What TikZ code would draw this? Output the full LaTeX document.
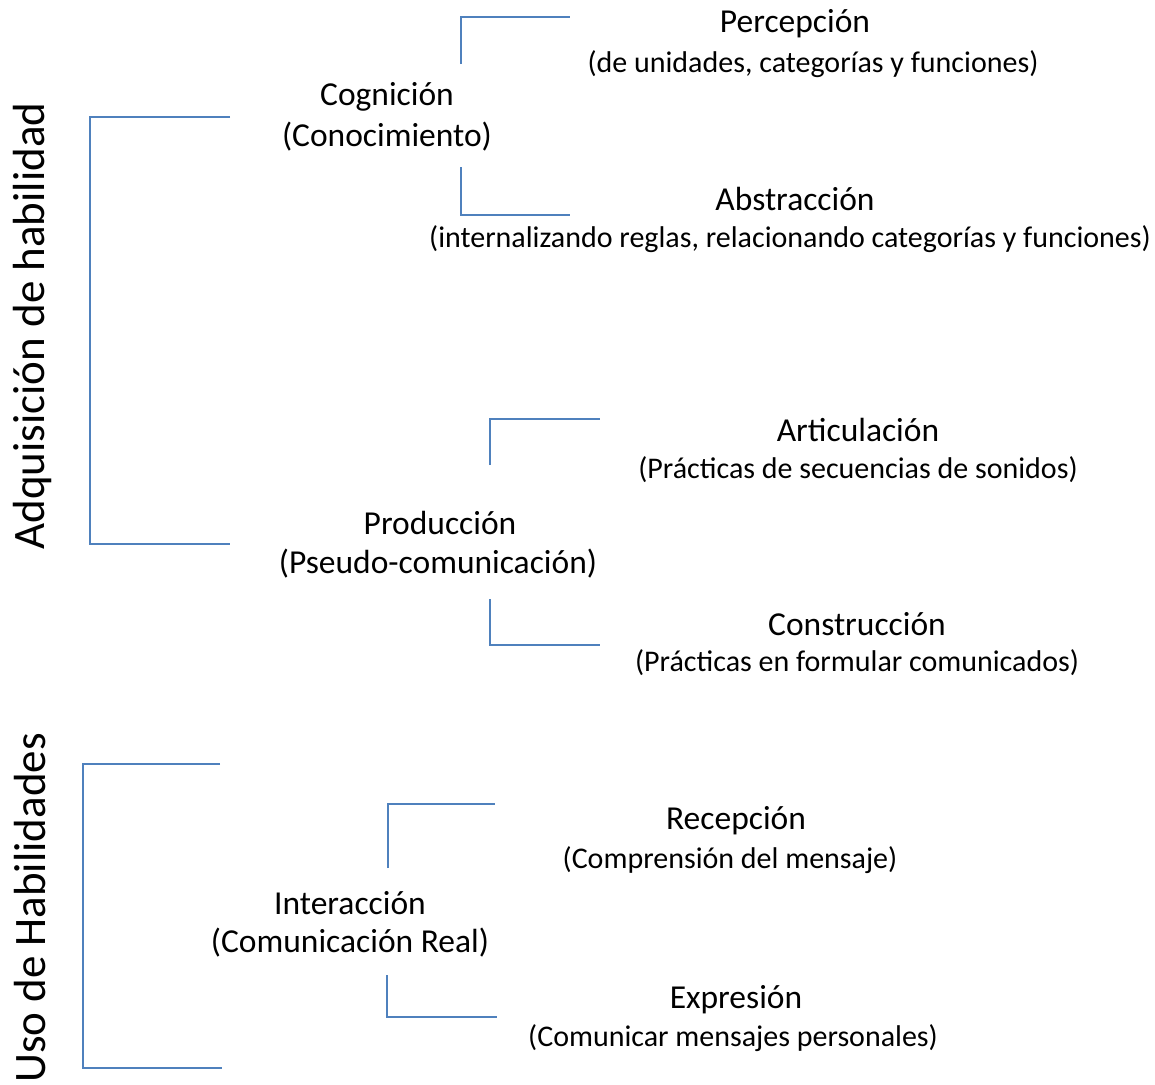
\documentclass[tikz,border=0pt]{standalone}
\usepackage{fontspec}
\setmainfont{Carlito}
\definecolor{brk}{HTML}{4F81BD}
\begin{document}
\begin{tikzpicture}[x=1pt,y=-1pt,
  brack/.style={draw=brk,line width=1.8pt},
  maintxt/.style={font=\fontsize{33.5}{40}\selectfont,inner sep=0pt,anchor=center},
  subtxt/.style={font=\fontsize{30}{36}\selectfont,inner sep=0pt,anchor=center},
  sidetxt/.style={font=\fontsize{45}{54}\selectfont,inner sep=0pt,anchor=center,rotate=90}]
\useasboundingbox (0,0) rectangle (1155,1084);
% side labels
\node[sidetxt] (adq) at (33,326) {Adquisición de habilidad};
\node[sidetxt] (uso) at (30,908) {Uso de Habilidades};
% big brackets
\draw[brack] (230,117) -- (90,117) -- (90,544) -- (230,544);
\draw[brack] (220,764) -- (83,764) -- (83,1068) -- (222,1068);
% Cognicion
\node[maintxt] (cog1) at (387,97) {Cognición};
\node[maintxt] (cog2) at (387,137) {(Conocimiento)};
\draw[brack] (461,64) -- (461,17) -- (570,17);
\draw[brack] (461,167) -- (461,215) -- (570,215);
\node[maintxt] (per1) at (795,24) {Percepción};
\node[subtxt] (per2) at (813,64) {(de unidades, categorías y funciones)};
\node[maintxt] (abs1) at (795,199) {Abstracción};
\node[subtxt] (abs2) at (790,239) {(internalizando reglas, relacionando categorías y funciones)};
% Produccion
\node[maintxt] (pro1) at (440,523) {Producción};
\node[maintxt] (pro2) at (438,564) {(Pseudo-comunicación)};
\draw[brack] (490,465) -- (490,419) -- (600,419);
\draw[brack] (490,599) -- (490,645) -- (600,645);
\node[maintxt] (art1) at (858,430) {Articulación};
\node[subtxt] (art2) at (858,470) {(Prácticas de secuencias de sonidos)};
\node[maintxt] (con1) at (857,624) {Construcción};
\node[subtxt] (con2) at (857,663) {(Prácticas en formular comunicados)};
% Interaccion
\node[maintxt] (int1) at (350,903) {Interacción};
\node[maintxt] (int2) at (350,943) {(Comunicación Real)};
\draw[brack] (388,868) -- (388,804) -- (495,804);
\draw[brack] (387,975) -- (387,1017) -- (497,1017);
\node[maintxt] (rec1) at (736,821) {Recepción};
\node[subtxt] (rec2) at (730,860) {(Comprensión del mensaje)};
\node[maintxt] (exp1) at (736,1000) {Expresión};
\node[subtxt] (exp2) at (733,1038) {(Comunicar mensajes personales)};
\end{tikzpicture}
\end{document}
